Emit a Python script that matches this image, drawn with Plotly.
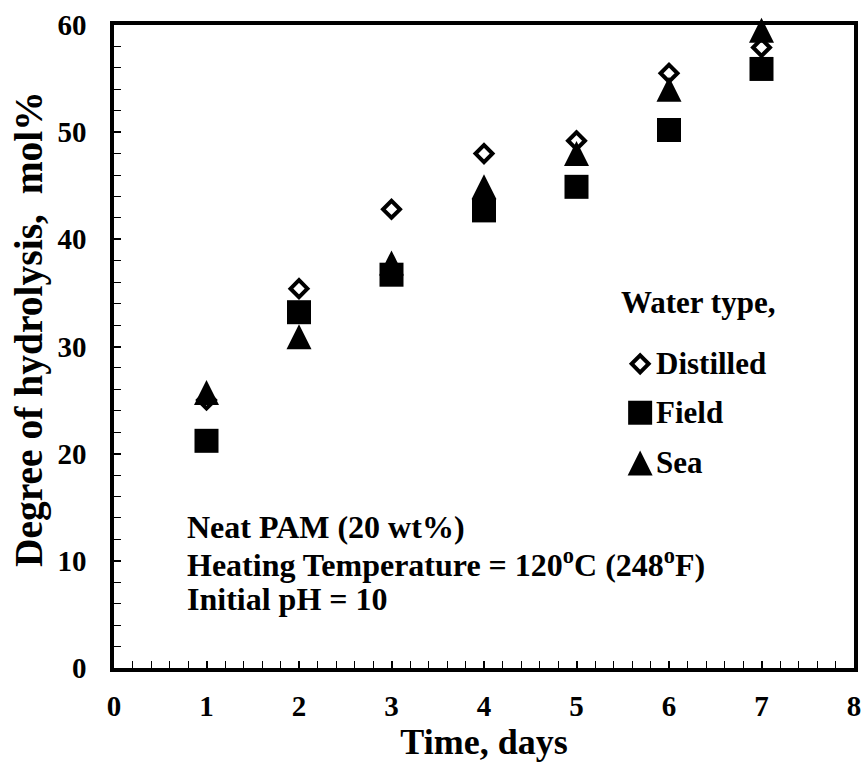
import plotly.graph_objects as go

# Hydrolysis of neat PAM at 120 °C in three water types
days = [1, 2, 3, 4, 5, 6, 7]
distilled = [25.0, 35.4, 42.8, 48.0, 49.2, 55.5, 57.9]
field = [21.2, 33.2, 36.7, 42.7, 44.9, 50.2, 55.9]
sea = [25.7, 30.9, 37.8, 44.9, 48.0, 54.0, 59.5]

x_ticks = [0, 1, 2, 3, 4, 5, 6, 7, 8]
y_ticks = [0, 10, 20, 30, 40, 50, 60]

FONT = "Liberation Serif"
TRI_SIZE = 25

diamond_style = dict(symbol="diamond", size=13, color="white",
                     line=dict(color="black", width=4))
square_style = dict(symbol="square", size=24, color="black", line=dict(width=0))
# arrow-down turned half a turn, pushed back by half its height so it sits centred
triangle_style = dict(symbol="arrow-down", angle=180, size=TRI_SIZE, color="black",
                      standoff=TRI_SIZE / 2, line=dict(width=0))

fig = go.Figure()
fig.add_trace(go.Scatter(x=days, y=distilled, mode="markers", name="Distilled",
                         marker=diamond_style, cliponaxis=False))
fig.add_trace(go.Scatter(x=days, y=field, mode="markers", name="Field",
                         marker=square_style, cliponaxis=False))
fig.add_trace(go.Scatter(x=days, y=sea, mode="markers", name="Sea",
                         marker=triangle_style, cliponaxis=False))

# Hand-built key on a hidden 0..1 overlay axis
key_x = 0.711
key_rows = [("Distilled", diamond_style, 0.473),
            ("Field", square_style, 0.397),
            ("Sea", triangle_style, 0.319)]
for label, style, ky in key_rows:
    fig.add_trace(go.Scatter(x=[key_x], y=[ky], mode="markers", marker=style,
                             xaxis="x2", yaxis="y2", showlegend=False,
                             cliponaxis=False, hoverinfo="skip"))

tick_font = dict(family=FONT, size=29, color="black", weight="bold")
key_font = dict(family=FONT, size=31, color="black", weight="bold")
note_font = dict(family=FONT, size=32, color="black", weight="bold")

annotations = [
    dict(text="Water type,", x=0.682, y=0.568, xanchor="left", yanchor="middle",
         font=key_font),
    dict(text="Degree of hydrolysis,&nbsp; mol%", textangle=-90,
         x=-0.115, y=0.527, xanchor="center", yanchor="middle",
         font=dict(family=FONT, size=39.5, color="black", weight="bold")),
]
for label, style, ky in key_rows:
    annotations.append(dict(text=label, x=0.7297, y=ky, xanchor="left",
                            yanchor="middle", font=key_font))
for txt, ty in [("Neat PAM (20 wt%)", 0.2193),
                ("Heating Temperature = 120<sup>o</sup>C (248<sup>o</sup>F)", 0.1633),
                ("Initial pH = 10", 0.1073)]:
    annotations.append(dict(text=txt, x=0.0959, y=ty, xanchor="left",
                            yanchor="middle", font=note_font))
for a in annotations:
    a.update(xref="paper", yref="paper", showarrow=False)

axis_common = dict(
    showline=True, linewidth=3.5, linecolor="black", mirror=True,
    showgrid=False, zeroline=False, automargin=False,
    ticks="inside", ticklen=7, tickwidth=1.5, tickcolor="black",
    tickfont=tick_font,
)

fig.update_layout(
    width=866, height=770,
    margin=dict(l=114, r=12, t=25, b=102),
    paper_bgcolor="white", plot_bgcolor="white",
    showlegend=False,
    xaxis=dict(range=[0, 8], tickvals=x_ticks, ticklabelstandoff=9,
               minor=dict(dtick=0.2, ticks="inside", ticklen=7, tickwidth=1.2,
                          tickcolor="black"),
               title=dict(text="Time, days", standoff=2,
                          font=dict(family=FONT, size=36, color="black", weight="bold")),
               **axis_common),
    yaxis=dict(range=[0, 60], tickvals=y_ticks, ticklabelstandoff=18,
               minor=dict(dtick=2, ticks="inside", ticklen=7, tickwidth=1.2,
                          tickcolor="black"),
               **axis_common),
    xaxis2=dict(range=[0, 1], overlaying="x", anchor="y2", visible=False),
    yaxis2=dict(range=[0, 1], overlaying="y", anchor="x2", visible=False),
    annotations=annotations,
)

fig.write_html("out.html")
